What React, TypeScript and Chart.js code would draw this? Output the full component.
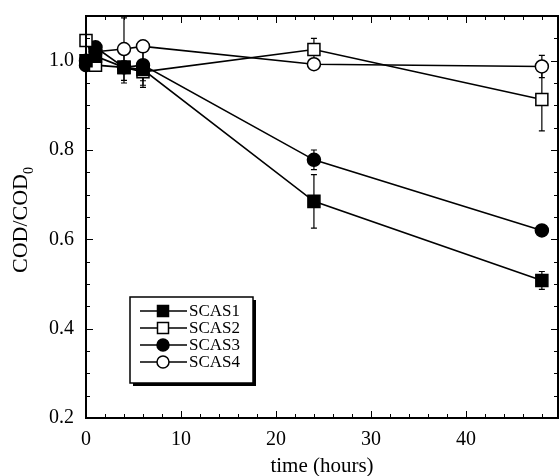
import React, { useEffect, useRef } from "react";
import { Chart, registerables } from "chart.js";

Chart.register(...registerables);

const timeHours = [0, 1, 4, 6, 24, 48];
const seriesNames = ["SCAS1", "SCAS2", "SCAS3", "SCAS4"];
const scas1 = [1.0, 1.01, 0.985, 0.98, 0.685, 0.508];
const scas1Err = [0.01, 0.01, 0.035, 0.04, 0.06, 0.02];
const scas2 = [1.045, 0.99, 0.985, 0.975, 1.025, 0.913];
const scas2Err = [0, 0.01, 0, 0.02, 0.025, 0.07];
const scas3 = [0.99, 1.03, 0.985, 0.99, 0.778, 0.62];
const scas3Err = [0.01, 0.01, 0, 0.045, 0.022, 0.008];
const scas4 = [1.0, 1.02, 1.026, 1.032, 0.992, 0.987];
const scas4Err = [0, 0.01, 0.07, 0, 0.01, 0.025];
const xTickValues = [0, 10, 20, 30, 40];
const yTickValues = [0.2, 0.4, 0.6, 0.8, 1.0];
const xTitle = "time (hours)";
const yTitleMain = "COD/COD";
const yTitleSub = "0";

const seriesValues = [scas1, scas2, scas3, scas4];
const seriesErrors = [scas1Err, scas2Err, scas3Err, scas4Err];
const seriesShapes = ["rect", "rect", "circle", "circle"];
const seriesFilled = [true, false, true, false];

const FONT = "'Liberation Serif', 'Times New Roman', serif";

function drawMarker(ctx: CanvasRenderingContext2D, x: number, y: number, shape: string, filled: boolean, size: number) {
  ctx.save();
  ctx.lineWidth = 1.5;
  ctx.strokeStyle = "#000";
  ctx.fillStyle = filled ? "#000" : "#fff";
  ctx.beginPath();
  if (shape === "rect") {
    ctx.rect(x - size / 2, y - size / 2, size, size);
  } else {
    ctx.arc(x, y, size / 2, 0, Math.PI * 2);
  }
  ctx.fill();
  ctx.stroke();
  ctx.restore();
}

const errorBarPlugin = {
  id: "errorBars",
  beforeDatasetsDraw(chart: any) {
    const { ctx, scales } = chart;
    const xs = scales.x;
    const ys = scales.y;
    ctx.save();
    ctx.strokeStyle = "#000";
    ctx.lineWidth = 1.2;
    seriesValues.forEach((vals, si) => {
      const errs = seriesErrors[si];
      vals.forEach((v, i) => {
        const e = errs[i];
        if (!e) return;
        const px = xs.getPixelForValue(timeHours[i]);
        const top = ys.getPixelForValue(v + e);
        const bot = ys.getPixelForValue(v - e);
        ctx.beginPath();
        ctx.moveTo(px, top);
        ctx.lineTo(px, bot);
        ctx.moveTo(px - 3, top);
        ctx.lineTo(px + 3, top);
        ctx.moveTo(px - 3, bot);
        ctx.lineTo(px + 3, bot);
        ctx.stroke();
      });
    });
    ctx.restore();
  },
};

const framePlugin = {
  id: "frameAndLegend",
  afterDraw(chart: any) {
    const { ctx, chartArea: a, scales } = chart;
    const xs = scales.x;
    const ys = scales.y;
    ctx.save();
    ctx.strokeStyle = "#000";
    ctx.lineWidth = 1;
    const seg = (x1: number, y1: number, x2: number, y2: number) => {
      ctx.beginPath();
      ctx.moveTo(x1, y1);
      ctx.lineTo(x2, y2);
      ctx.stroke();
    };
    // x ticks (inward, top and bottom)
    for (let v = 0; v <= xs.max + 1e-9; v += 2) {
      const len = v % 10 === 0 ? 7 : 4;
      const px = Math.round(xs.getPixelForValue(v)) + 0.5;
      seg(px, a.bottom, px, a.bottom - len);
      seg(px, a.top, px, a.top + len);
    }
    // y ticks (inward, left and right)
    for (let k = 4; k <= 22; k++) {
      const v = k * 0.05;
      if (v > ys.max + 1e-9) break;
      const len = k % 4 === 0 ? 7 : 4;
      const py = Math.round(ys.getPixelForValue(v)) + 0.5;
      seg(a.left, py, a.left + len, py);
      seg(a.right, py, a.right - len, py);
    }
    // frame
    ctx.lineWidth = 2;
    ctx.strokeRect(a.left, a.top, a.right - a.left, a.bottom - a.top);

    // legend
    const lx = 130, ly = 297, lw = 123, lh = 86;
    ctx.fillStyle = "#fff";
    ctx.fillRect(lx, ly, lw, lh);
    ctx.fillStyle = "#000";
    ctx.fillRect(lx + 3, ly + lh, lw, 3);
    ctx.fillRect(lx + lw, ly + 3, 3, lh);
    ctx.lineWidth = 1.5;
    ctx.strokeRect(lx, ly, lw, lh);
    ctx.font = `17px ${FONT}`;
    ctx.textAlign = "left";
    ctx.textBaseline = "middle";
    seriesNames.forEach((name, i) => {
      const ry = 311 + i * 17;
      ctx.lineWidth = 1.6;
      seg(140, ry, 187, ry);
      drawMarker(ctx, 163, ry, seriesShapes[i], seriesFilled[i], seriesShapes[i] === "rect" ? 11 : 12);
      ctx.fillStyle = "#000";
      ctx.fillText(name, 189, ry + 1);
    });

    // x title
    ctx.font = `21px ${FONT}`;
    ctx.textAlign = "center";
    ctx.textBaseline = "middle";
    ctx.fillText(xTitle, (a.left + a.right) / 2, 466);

    // y title with subscript
    ctx.save();
    ctx.translate(21, (a.top + a.bottom) / 2 + 3);
    ctx.rotate(-Math.PI / 2);
    ctx.font = `22px ${FONT}`;
    const wMain = ctx.measureText(yTitleMain).width;
    ctx.font = `14px ${FONT}`;
    const wSub = ctx.measureText(yTitleSub).width;
    const start = -(wMain + wSub) / 2;
    ctx.textAlign = "left";
    ctx.font = `22px ${FONT}`;
    ctx.fillText(yTitleMain, start, 0);
    ctx.font = `14px ${FONT}`;
    ctx.fillText(yTitleSub, start + wMain, 8);
    ctx.restore();

    ctx.restore();
  },
};

function zeroPadding(scale: any) {
  scale.paddingTop = 0;
  scale.paddingBottom = 0;
  scale.paddingLeft = 0;
  scale.paddingRight = 0;
}

export default function App() {
  const canvasRef = useRef<HTMLCanvasElement | null>(null);

  useEffect(() => {
    if (!canvasRef.current) return;
    Chart.defaults.font.family = FONT;
    const datasets = seriesNames.map((name, si) => ({
      label: name,
      data: timeHours.map((t, i) => ({ x: t, y: seriesValues[si][i] })),
      borderColor: "#000",
      borderWidth: 1.6,
      pointStyle: seriesShapes[si],
      pointRadius: seriesShapes[si] === "rect" ? 8.5 : 6.5,
      pointBorderWidth: 1.5,
      pointBorderColor: "#000",
      pointBackgroundColor: seriesFilled[si] ? "#000" : "#fff",
      tension: 0,
      fill: false,
    }));
    const chart = new Chart(canvasRef.current, {
      type: "line",
      data: { datasets },
      options: {
        animation: false,
        responsive: false,
        clip: false as any,
        layout: { autoPadding: false, padding: { top: 16, right: 2, left: 0, bottom: 0 } },
        plugins: { legend: { display: false }, tooltip: { enabled: false } },
        scales: {
          x: {
            type: "linear",
            min: 0,
            max: 49.7,
            grid: { display: false, drawTicks: false },
            border: { display: false },
            afterBuildTicks: (scale: any) => {
              scale.ticks = xTickValues.map((v) => ({ value: v }));
            },
            afterFit: (scale: any) => {
              scale.height = 58;
              zeroPadding(scale);
            },
            ticks: {
              autoSkip: false,
              maxRotation: 0,
              padding: 10,
              color: "#000",
              font: { size: 20, family: FONT },
            },
          },
          y: {
            type: "linear",
            min: 0.2,
            max: 1.1,
            grid: { display: false, drawTicks: false },
            border: { display: false },
            afterBuildTicks: (scale: any) => {
              scale.ticks = yTickValues.map((v) => ({ value: v }));
            },
            afterFit: (scale: any) => {
              scale.width = 86;
              zeroPadding(scale);
            },
            ticks: {
              padding: 12,
              color: "#000",
              font: { size: 20, family: FONT },
              callback: (v: any) => Number(v).toFixed(1),
            },
          },
        },
      },
      plugins: [errorBarPlugin, framePlugin],
    });
    return () => chart.destroy();
  }, []);

  return (
    <div style={{ position: "fixed", left: 0, top: 0, width: 560, height: 476, background: "#fff" }}>
      <canvas ref={canvasRef} width={560} height={476} style={{ width: 560, height: 476, display: "block" }} />
    </div>
  );
}
